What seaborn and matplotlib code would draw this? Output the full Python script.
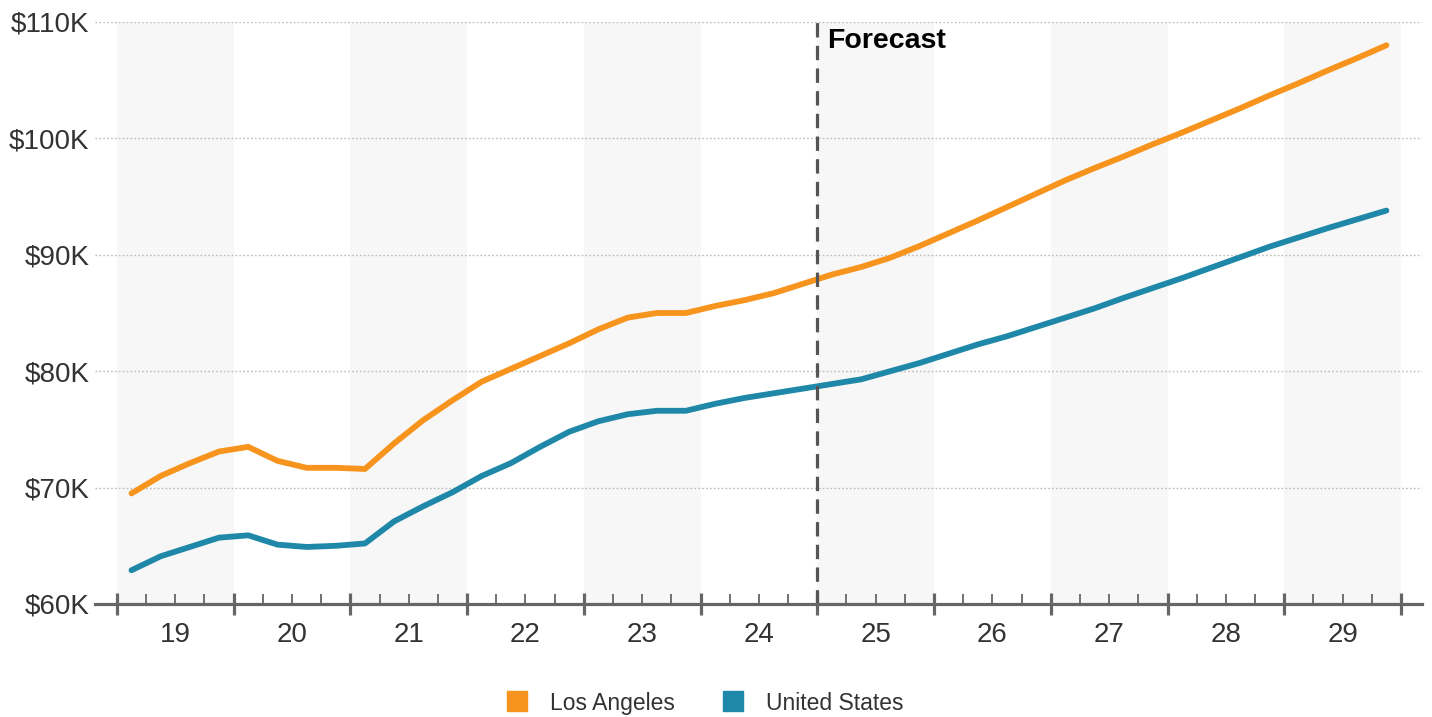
import matplotlib
matplotlib.use("Agg")
import matplotlib.pyplot as plt
import matplotlib.transforms as mtransforms
from matplotlib.lines import Line2D
import pandas as pd
import seaborn as sns

# Quarterly series, 2019 Q1 through 2029 Q4 (values in $K)
years = ["19", "20", "21", "22", "23", "24", "25", "26", "27", "28", "29"]
quarters = [f"{y}Q{q}" for y in years for q in range(1, 5)]

los_angeles = [
    69.5, 71.0, 72.1, 73.1,
    73.5, 72.3, 71.7, 71.7,
    71.6, 73.8, 75.8, 77.5,
    79.1, 80.2, 81.3, 82.4,
    83.6, 84.6, 85.0, 85.0,
    85.6, 86.1, 86.7, 87.5,
    88.3, 88.95, 89.75, 90.75,
    91.85, 92.95, 94.1, 95.25,
    96.4, 97.45, 98.45, 99.5,
    100.5, 101.55, 102.6, 103.7,
    104.75, 105.85, 106.9, 108.0,
]
united_states = [
    62.9, 64.1, 64.9, 65.7,
    65.9, 65.1, 64.9, 65.0,
    65.2, 67.1, 68.4, 69.6,
    71.0, 72.1, 73.5, 74.8,
    75.7, 76.3, 76.6, 76.6,
    77.2, 77.7, 78.1, 78.5,
    78.9, 79.3, 80.0, 80.7,
    81.5, 82.3, 83.0, 83.8,
    84.6, 85.4, 86.3, 87.15,
    88.0, 88.9, 89.8, 90.7,
    91.5, 92.3, 93.05, 93.8,
]
series_names = ["Los Angeles", "United States"]
series_colors = ["#F7941D", "#1F88A8"]
y_ticks = [60, 70, 80, 90, 100, 110]
y_tick_labels = ["$60K", "$70K", "$80K", "$90K", "$100K", "$110K"]
forecast_start_year = "25"

df = pd.DataFrame({
    "quarter": quarters * 2,
    "pos": list(range(len(quarters))) * 2,
    "value": los_angeles + united_states,
    "series": [series_names[0]] * len(quarters) + [series_names[1]] * len(quarters),
})

sns.set_theme(style="white")
plt.rcParams["font.family"] = ["Liberation Sans", "DejaVu Sans"]
text_color = "#333333"
axis_color = "#666666"

fig = plt.figure(figsize=(14.32, 7.17), dpi=100)
ax = fig.add_axes([95 / 1432, 1 - 604 / 717, (1422 - 95) / 1432, (604 - 22) / 717])

# alternating year bands
for k, yr in enumerate(years):
    if k % 2 == 0:
        ax.axvspan(4 * k - 0.5, 4 * k + 3.5, color="#F7F7F7", zorder=0, lw=0)

sns.lineplot(data=df, x="pos", y="value", hue="series", palette=series_colors,
             hue_order=series_names, linewidth=4.2, ax=ax, legend=False, zorder=3)
for ln in ax.lines:
    ln.set_solid_capstyle("round")
    ln.set_solid_joinstyle("round")

ax.set_xlim(-1.25, 44.22)
ax.set_ylim(60, 110)

# horizontal grid
for v in y_ticks[1:]:
    ax.axhline(v, color="#BBBBBB", lw=1.0, ls=(0, (1.2, 1.6)), zorder=1)

ax.set_yticks(y_ticks)
ax.set_yticklabels(y_tick_labels, fontsize=20, color=text_color)
ax.tick_params(axis="y", length=0, pad=4)

# x axis: year boundaries as major ticks, quarter boundaries as minor ticks
year_edges = [4 * k - 0.5 for k in range(len(years) + 1)]
quarter_edges = [4 * k + q - 0.5 for k in range(len(years)) for q in (1, 2, 3)]
ax.set_xticks(year_edges)
ax.set_xticklabels([])
ax.set_xticks(quarter_edges, minor=True)
ax.tick_params(axis="x", which="major", direction="inout", length=16, width=2.3,
               color=axis_color, bottom=True)
ax.tick_params(axis="x", which="minor", direction="in", length=7.5, width=1.3,
               color=axis_color, bottom=True)
ax.set_xlabel("")
ax.set_ylabel("")

trans = mtransforms.blended_transform_factory(ax.transData, ax.transAxes)
for k, yr in enumerate(years):
    ax.text(4 * k + 1.5, -0.053, yr, transform=trans, ha="center", va="center",
            fontsize=20, color=text_color)

for side in ["top", "right", "left"]:
    ax.spines[side].set_visible(False)
ax.spines["bottom"].set_color(axis_color)
ax.spines["bottom"].set_linewidth(2.3)
ax.spines["bottom"].set_zorder(4)

# forecast divider
fx = years.index(forecast_start_year) * 4 - 0.5
ax.axvline(fx, color="#555555", lw=2.3, ls=(0, (4.5, 2.6)), zorder=4)
ax.text(fx + 0.33, 108.35, "Forecast", fontsize=20.5, fontweight="bold",
        color="black", ha="left", va="center", zorder=5)

handles = [Line2D([0], [0], marker="s", linestyle="none", markersize=14.5,
                  markerfacecolor=c, markeredgecolor=c) for c in series_colors]
fig.legend(handles, series_names, loc="center", bbox_to_anchor=(0.488, 0.0195),
           ncol=2, frameon=False, fontsize=16.5, handletextpad=0.45,
           columnspacing=1.5, labelcolor=text_color)

fig.savefig("out.png", dpi=100, facecolor="white")
